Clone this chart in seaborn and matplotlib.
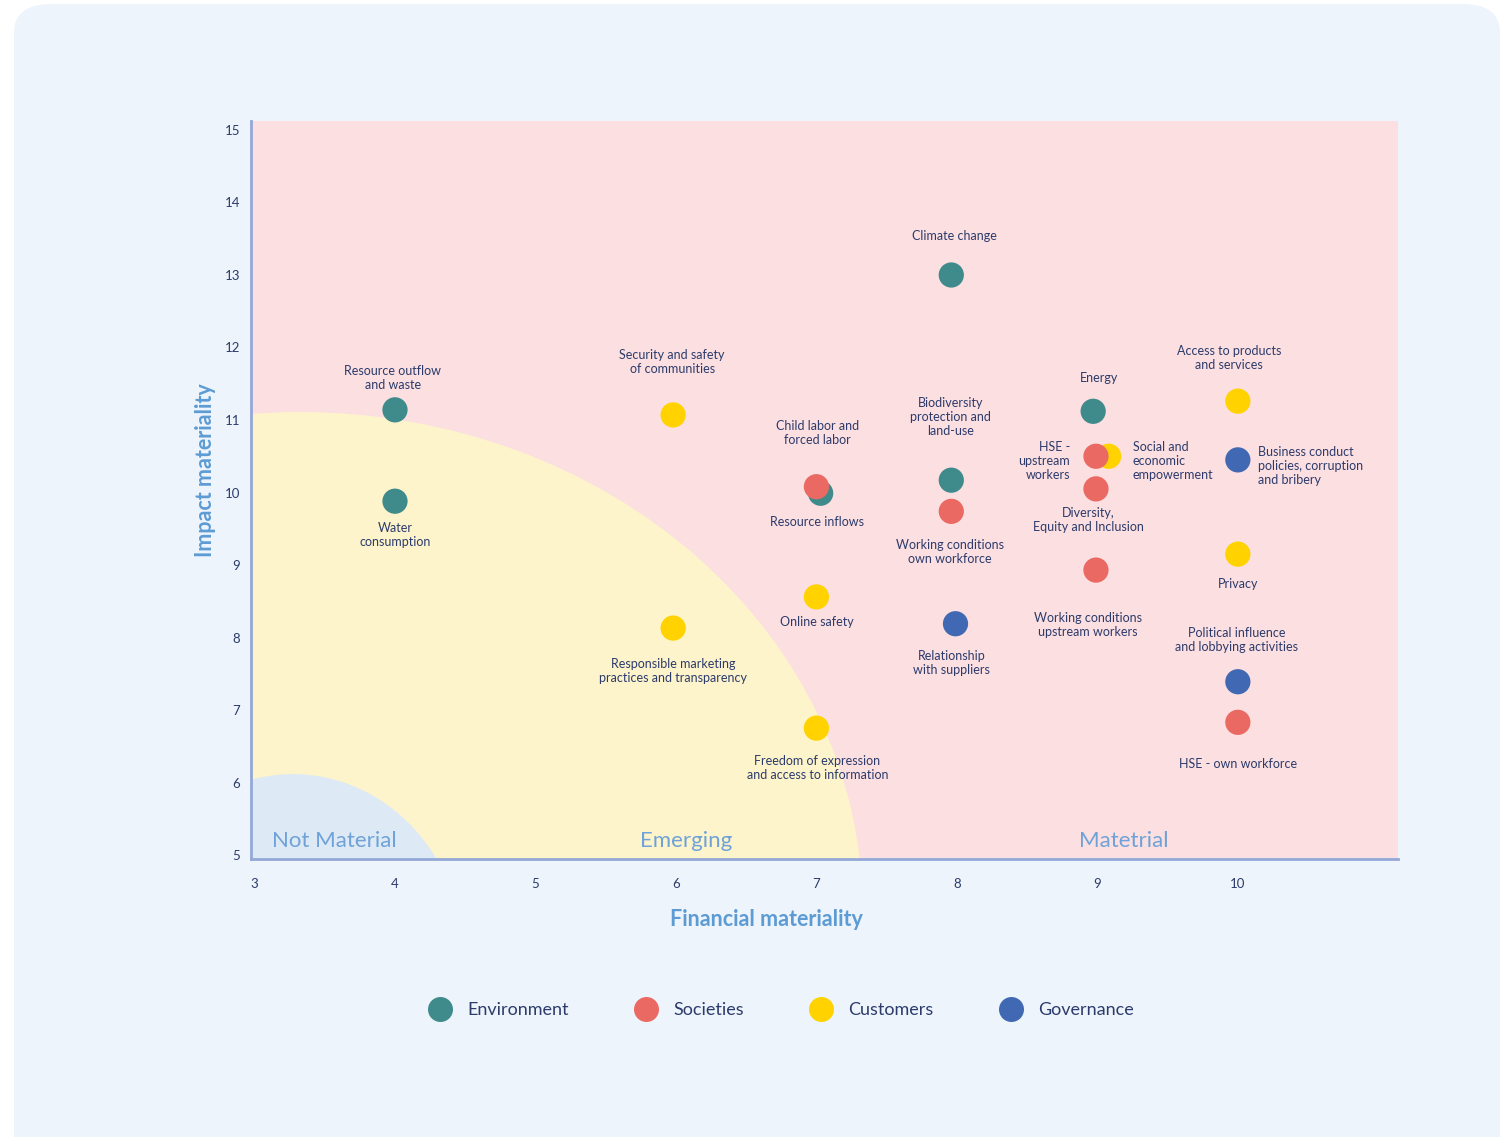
import numpy as np
import pandas as pd
import matplotlib.pyplot as plt
import seaborn as sns
from matplotlib.patches import Ellipse, FancyBboxPatch
from matplotlib.lines import Line2D

# ---------------------------------------------------------------------------
# Dane
# ---------------------------------------------------------------------------
TOPICS = [
    'Resource outflow\nand waste', 'Water\nconsumption', 'Resource inflows',
    'Climate change', 'Biodiversity\nprotection and\nland-use', 'Energy',
    'Security and safety\nof communities', 'Responsible marketing\npractices and transparency',
    'Online safety', 'Freedom of expression\nand access to information',
    'Social and\neconomic\nempowerment', 'Access to products\nand services', 'Privacy',
    'Relationship\nwith suppliers', 'Business conduct\npolicies, corruption\nand bribery',
    'Political influence\nand lobbying activities',
    'Child labor and\nforced labor', 'Working conditions\nown workforce', 'HSE -\nupstream\nworkers',
    'Diversity,\nEquity and Inclusion', 'Working conditions\nupstream workers', 'HSE - own workforce',
]
CATEGORY = (['Environment'] * 6 + ['Customers'] * 7 + ['Governance'] * 3 + ['Societies'] * 6)
FINANCIAL = [4, 4, 7.03, 7.96, 7.96, 8.97,
             5.98, 5.98, 7, 7, 9.08, 10, 10,
             7.99, 10, 10,
             7, 7.96, 8.99, 8.99, 8.99, 10]
IMPACT = [11.14, 9.88, 9.99, 13.0, 10.17, 11.12,
          11.07, 8.13, 8.56, 6.75, 10.5, 11.26, 9.15,
          8.19, 10.45, 7.39,
          10.08, 9.74, 10.5, 10.05, 8.93, 6.83]
# przesunięcie etykiet względem punktu (px) i wyrównanie
LABEL_DX = [-2, 0, -4, 3, -1, 6,
            -1, 0, 0, 1, 24, -9, 0,
            -4, 20, -1,
            1, -1, -26, -8, -8, 0]
LABEL_DY = [-32, 34, 29, -39, -63, -33,
            -53, 43, 25, 40, 5, -43, 30,
            39, 6, -42,
            -54, 41, 5, 31, 55, 42]
LABEL_HA = ['center'] * 10 + ['left'] + ['center'] * 3 + ['left'] + ['center'] * 3 + ['right'] + ['center'] * 3

CATEGORIES = ['Environment', 'Societies', 'Customers', 'Governance']
COLORS = ['#3f8a8b', '#ea6a63', '#ffd200', '#4169b3']

X_TICKS = [3, 4, 5, 6, 7, 8, 9, 10]
Y_TICKS = [5, 6, 7, 8, 9, 10, 11, 12, 13, 14, 15]

NAVY = '#2c3b6b'
LIGHT_BLUE = '#5d9bd4'

df = pd.DataFrame({'topic': TOPICS, 'category': CATEGORY,
                   'financial': FINANCIAL, 'impact': IMPACT})

# ---------------------------------------------------------------------------
# Wykres
# ---------------------------------------------------------------------------
sns.set_style('white')
plt.rcParams['font.family'] = ['Lato', 'DejaVu Sans']

fig = plt.figure(figsize=(15.1, 11.37), dpi=100)
fig.patch.set_facecolor('white')
fig.patches.append(FancyBboxPatch((14 / 1510, -0.05), 1486 / 1510, 1.05 - 4 / 1137,
                                  boxstyle='round,pad=0,rounding_size=0.025',
                                  transform=fig.transFigure, facecolor='#edf4fb',
                                  edgecolor='none', zorder=-10))

ax = fig.add_axes([251 / 1510, 1 - 859 / 1137, (1398 - 251) / 1510, (859 - 121) / 1137])
ax.set_facecolor('#fbdfe1')

# strefy: Emerging (żółta) i Not Material (niebieska)
ax.add_patch(Ellipse((3.324, 4.255), 8.01, 13.71, facecolor='#fdf4cc', edgecolor='none', zorder=0))
ax.add_patch(Ellipse((3.274, 3.566), 2.43, 5.10, facecolor='#dde9f4', edgecolor='none', zorder=0))

sns.scatterplot(data=df, x='financial', y='impact', hue='category',
                hue_order=CATEGORIES, palette=COLORS, s=330, linewidth=0,
                legend=False, ax=ax, zorder=3)

for i, row in df.iterrows():
    ax.annotate(row['topic'], (row['financial'], row['impact']),
                xytext=(LABEL_DX[i], -LABEL_DY[i]), textcoords='offset pixels',
                ha=LABEL_HA[i], va='center', multialignment=LABEL_HA[i],
                fontsize=9, color=NAVY, linespacing=1.2, zorder=4)

ax.set_xlim(2.975, 11.14)
ax.set_ylim(4.945, 15.124)
ax.set_xticks(X_TICKS)
ax.set_yticks(Y_TICKS)
ax.tick_params(axis='both', length=0, labelsize=9.5, labelcolor=NAVY)
ax.tick_params(axis='x', pad=14)
ax.tick_params(axis='y', pad=8)

for side in ['top', 'right']:
    ax.spines[side].set_visible(False)
for side in ['left', 'bottom']:
    ax.spines[side].set_color('#93a8d6')
    ax.spines[side].set_linewidth(2)

ax.set_xlabel('Financial materiality', fontsize=15.5, fontweight='bold', color=LIGHT_BLUE)
ax.set_ylabel('Impact materiality', fontsize=15.5, fontweight='bold', color=LIGHT_BLUE)
ax.xaxis.set_label_coords((766 - 251) / 1147, (859 - 920) / 738)
ax.yaxis.set_label_coords((205 - 251) / 1147, (859 - 470) / 738)
ax.xaxis.label.set_va('center')
ax.yaxis.label.set_va('center')

# nazwy stref
for name, px in [('Not Material', 334), ('Emerging', 686), ('Matetrial', 1124)]:
    ax.text(4 + (px - 395) / 140.5, 5.2, name, ha='center', va='center',
            fontsize=16, color='#6ea2d8', zorder=2)

handles = [Line2D([], [], marker='o', linestyle='none', markersize=18,
                  markerfacecolor=c, markeredgewidth=0) for c in COLORS]
fig.legend(handles, CATEGORIES, loc='center', bbox_to_anchor=(778 / 1510, 1 - 1010 / 1137),
           ncol=4, frameon=False, fontsize=13, labelcolor=NAVY,
           columnspacing=3.3, handletextpad=0.5)

plt.savefig('out.png', dpi=100)
plt.close()
